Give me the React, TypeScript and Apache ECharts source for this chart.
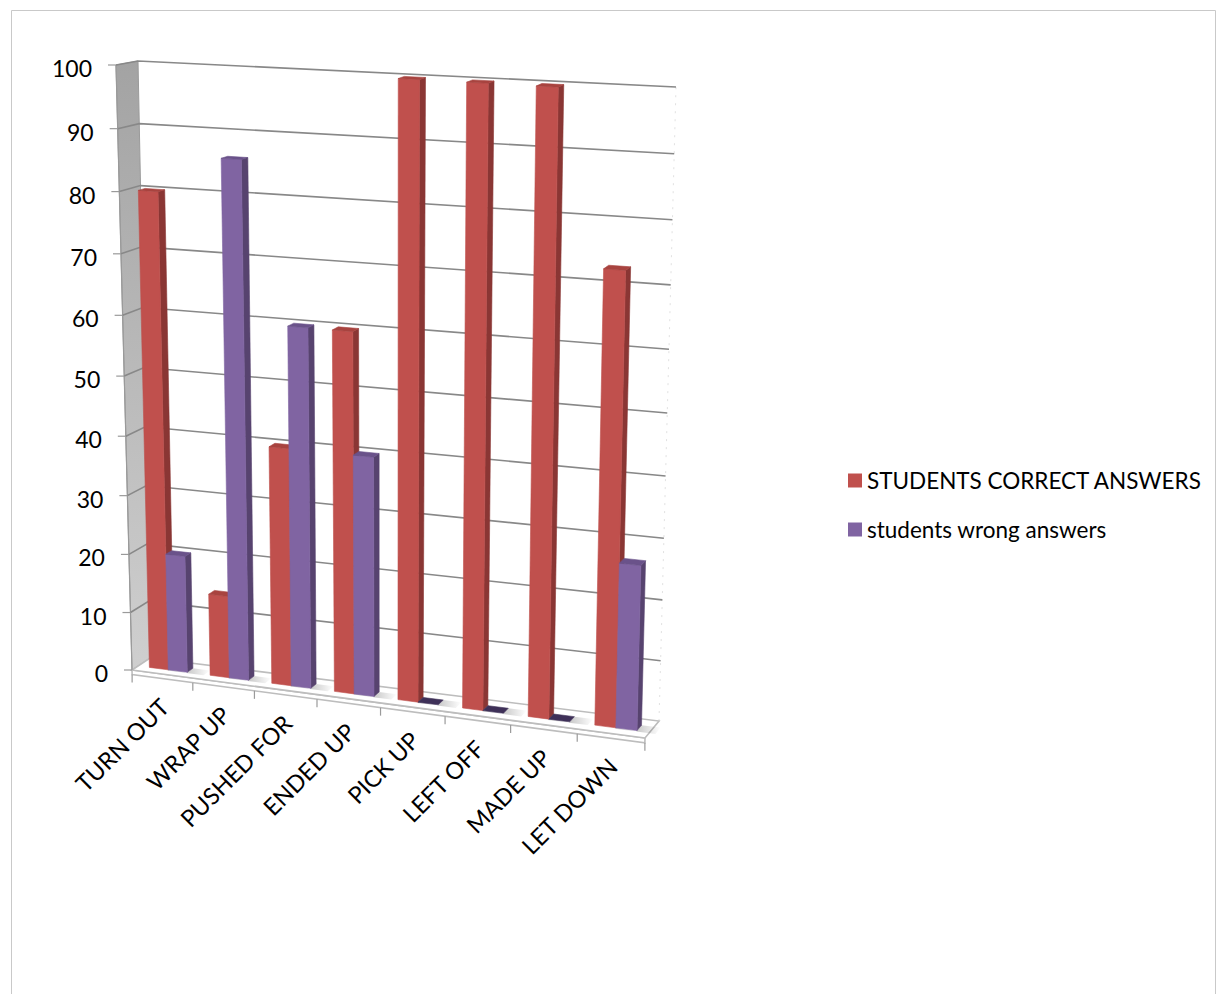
import React, { useEffect, useRef } from "react";
import * as echarts from "echarts";

const categories = ["TURN OUT", "WRAP UP", "PUSHED FOR", "ENDED UP", "PICK UP", "LEFT OFF", "MADE UP", "LET DOWN"];
const correctAnswers = [80, 14, 40, 60, 100, 100, 100, 73];
const wrongAnswers = [20, 86, 60, 40, 0, 0, 0, 27];
const yTicks = [0, 10, 20, 30, 40, 50, 60, 70, 80, 90, 100];
const seriesNames = ["STUDENTS CORRECT ANSWERS", "students wrong answers"];

const FONT = "Lato";

type Pt = [number, number];

// Screen outline of the 3D plot box: back wall and front plane (BL, BR, TR, TL)
const BACK_QUAD: Pt[] = [[150, 658], [659, 721], [676, 87], [138, 61]];
const FRONT_QUAD: Pt[] = [[132, 670], [645, 738], [660, 96], [116, 65]];

// Unit square -> quadrilateral projective map
function makeHomography(q: Pt[]) {
  const [x0, y0] = q[0], [x1, y1] = q[1], [x2, y2] = q[2], [x3, y3] = q[3];
  const dx1 = x1 - x2, dx2 = x3 - x2, dx3 = x0 - x1 + x2 - x3;
  const dy1 = y1 - y2, dy2 = y3 - y2, dy3 = y0 - y1 + y2 - y3;
  const den = dx1 * dy2 - dx2 * dy1;
  const g = (dx3 * dy2 - dx2 * dy3) / den;
  const h = (dx1 * dy3 - dx3 * dy1) / den;
  const a = x1 - x0 + g * x1, b = x3 - x0 + h * x3, c = x0;
  const d = y1 - y0 + g * y1, e = y3 - y0 + h * y3, f = y0;
  return (u: number, v: number): Pt => {
    const w = g * u + h * v + 1;
    return [(a * u + b * v + c) / w, (d * u + e * v + f) / w];
  };
}

const backMap = makeHomography(BACK_QUAD);
const frontMap = makeHomography(FRONT_QUAD);

// u: along categories, v: along values, w: depth (0 front, 1 back)
function proj(u: number, v: number, w: number): Pt {
  const f = frontMap(u, v);
  const b = backMap(u, v);
  return [f[0] + (b[0] - f[0]) * w, f[1] + (b[1] - f[1]) * w];
}

const GAP = 1.2;
const DEPTH_FRONT = 0.34;
const DEPTH_BACK = 0.66;
const FLOOR_THICK = 0.008;

const PALETTES = [
  { front: "#C0504D", side: "#8A3634", top: "#A8433F", flat: "#7A2F2D" },
  { front: "#8064A2", side: "#57436F", top: "#6A528A", flat: "#3E3058" },
];

function unitCoords(params: any, api: any, idx: number, val: number) {
  const cs = params.coordSys;
  const base = api.coord([idx, 0]);
  const top = api.coord([idx, val]);
  const band = api.size([1, 0])[0];
  return {
    uc: (base[0] - cs.x) / cs.width,
    bandU: band / cs.width,
    v: (cs.y + cs.height - top[1]) / cs.height,
  };
}

function poly(points: Pt[], fill: any, stroke?: string, lineWidth = 0.6): any {
  return {
    type: "polygon",
    shape: { points },
    style: { fill, stroke: stroke || fill, lineWidth },
  };
}

function frameSeries(): any {
  return {
    type: "custom",
    name: "frame",
    silent: true,
    z: 1,
    data: yTicks.map((t) => [0, t]),
    encode: { x: 0, y: 1 },
    renderItem: (params: any, api: any) => {
      const t = api.value(1);
      const { v } = unitCoords(params, api, 0, t);
      const children: any[] = [];
      if (params.dataIndex === 0) {
        // side wall
        children.push({
          type: "polygon",
          shape: { points: [proj(0, 0, 0), proj(0, 0, 1), proj(0, 1, 1), proj(0, 1, 0)] },
          style: {
            fill: new echarts.graphic.LinearGradient(0, 0, 0, 1, [
              { offset: 0, color: "#A3A3A3" },
              { offset: 1, color: "#CFCFCF" },
            ]),
            stroke: "#9A9A9A",
            lineWidth: 1,
          },
        });
        // faint right edge of the back wall
        children.push({
          type: "line",
          shape: { x1: proj(1, 0, 1)[0], y1: proj(1, 0, 1)[1], x2: proj(1, 1, 1)[0], y2: proj(1, 1, 1)[1] },
          style: { stroke: "#E2E2E2", lineWidth: 1, lineDash: [2, 6] },
        });
        // floor slab: front strip and top face
        children.push(poly([proj(0, 0, 0), proj(1, 0, 0), proj(1, -FLOOR_THICK, 0), proj(0, -FLOOR_THICK, 0)], "#FFFFFF", "#BDBDBD", 1.6));
        children.push(poly([proj(0, 0, 0), proj(1, 0, 0), proj(1, 0, 1), proj(0, 0, 1)], "#FFFFFF", "#BDBDBD", 1.6));
        // axis line along the front edge of the side wall
        const a0 = proj(0, 0, 0), a1 = proj(0, 1, 0);
        children.push({
          type: "line",
          shape: { x1: a0[0], y1: a0[1], x2: a1[0], y2: a1[1] },
          style: { stroke: "#9A9A9A", lineWidth: 1.2 },
        });
      }
      if (t > 0) {
        children.push({
          type: "polyline",
          shape: { points: [proj(0, v, 0), proj(0, v, 1), proj(1, v, 1)] },
          style: { stroke: "#888888", lineWidth: 1.6, fill: "none" },
        });
      }
      const p = proj(0, v, 0);
      children.push({
        type: "line",
        shape: { x1: p[0] - 8, y1: p[1], x2: p[0], y2: p[1] },
        style: { stroke: "#9A9A9A", lineWidth: 1.2 },
      });
      children.push({
        type: "text",
        x: p[0] - 24,
        y: p[1] + 3,
        style: {
          text: String(t),
          align: "right",
          verticalAlign: "middle",
          fontFamily: FONT,
          fontSize: 23,
          fill: "#000000",
        },
      });
      return { type: "group", children };
    },
  };
}

function barSeries(s: number): any {
  const values = s === 0 ? correctAnswers : wrongAnswers;
  const pal = PALETTES[s];
  return {
    type: "custom",
    name: seriesNames[s],
    z: 3 + s,
    itemStyle: { color: pal.front },
    data: values.map((val, i) => [i, val]),
    encode: { x: 0, y: 1 },
    renderItem: (params: any, api: any) => {
      const i = api.value(0);
      const val = api.value(1);
      const { uc, bandU, v } = unitCoords(params, api, i, val);
      const bw = bandU / (2 + GAP);
      const uL = s === 0 ? uc - bw : uc;
      const uR = uL + bw;
      const f = DEPTH_FRONT, b = DEPTH_BACK;
      const children: any[] = [];
      // soft shading on the floor beside the bar
      children.push({
        type: "polygon",
        shape: { points: [proj(uR, 0, f - 0.05), proj(uR + bw * 0.9, 0, f - 0.05), proj(uR + bw * 0.9, 0, b), proj(uR, 0, b)] },
        style: {
          fill: new echarts.graphic.LinearGradient(0, 0, 1, 0, [
            { offset: 0, color: "rgba(0,0,0,0.22)" },
            { offset: 1, color: "rgba(0,0,0,0)" },
          ]),
        },
      });
      if (v > 0.0005) {
        children.push(poly([proj(uR, 0, f), proj(uR, 0, b), proj(uR, v, b), proj(uR, v, f)], pal.side));
        children.push(poly([proj(uL, 0, f), proj(uR, 0, f), proj(uR, v, f), proj(uL, v, f)], pal.front));
        children.push(poly([proj(uL, v, f), proj(uR, v, f), proj(uR, v, b), proj(uL, v, b)], pal.top));
      } else {
        children.push(poly([proj(uL, 0, f), proj(uR, 0, f), proj(uR, 0, b), proj(uL, 0, b)], pal.flat));
      }
      return { type: "group", children };
    },
  };
}

function categoryLabelSeries(): any {
  return {
    type: "custom",
    name: "categoryLabels",
    silent: true,
    z: 5,
    data: categories.map((_, i) => [i, 0]),
    encode: { x: 0, y: 1 },
    renderItem: (params: any, api: any) => {
      const i = api.value(0);
      const { uc, bandU } = unitCoords(params, api, i, 0);
      const children: any[] = [];
      const tickAt = (u: number) => {
        const p = proj(u, -FLOOR_THICK, 0);
        children.push({
          type: "line",
          shape: { x1: p[0], y1: p[1], x2: p[0], y2: p[1] + 8 },
          style: { stroke: "#9A9A9A", lineWidth: 1.2 },
        });
      };
      tickAt(uc - bandU / 2);
      if (i === categories.length - 1) tickAt(uc + bandU / 2);
      const c = proj(uc, -FLOOR_THICK, 0);
      children.push({
        type: "text",
        x: c[0] + 2,
        y: c[1] + 24,
        rotation: Math.PI / 4,
        style: {
          text: categories[i],
          align: "right",
          verticalAlign: "middle",
          fontFamily: FONT,
          fontSize: 23.5,
          fill: "#000000",
        },
      });
      return { type: "group", children };
    },
  };
}

export default function App() {
  const ref = useRef<HTMLDivElement>(null);
  useEffect(() => {
    if (!ref.current) return;
    const chart = echarts.init(ref.current, null, { renderer: "svg" });
    chart.setOption({
      animation: false,
      backgroundColor: "#FFFFFF",
      grid: { left: 0, right: 0, top: 0, bottom: 0 },
      xAxis: { type: "category", data: categories, show: false },
      yAxis: { type: "value", min: 0, max: 100, interval: 10, show: false },
      legend: {
        data: seriesNames,
        orient: "vertical",
        left: 843,
        top: 464,
        icon: "rect",
        itemWidth: 14,
        itemHeight: 14,
        itemGap: 26,
        textStyle: { fontFamily: FONT, fontSize: 22.5, color: "#000000" },
        selectedMode: false,
      },
      graphic: [
        {
          type: "rect",
          silent: true,
          z: -10,
          shape: { x: 11.5, y: 10.5, width: 1204, height: 1010 },
          style: { fill: "none", stroke: "#C9C9C9", lineWidth: 1 },
        },
      ],
      series: [frameSeries(), barSeries(0), barSeries(1), categoryLabelSeries()],
    });
    return () => chart.dispose();
  }, []);
  return (
    <div
      ref={ref}
      style={{ position: "fixed", left: 0, top: 0, width: 1218, height: 994, background: "#FFFFFF" }}
    />
  );
}
